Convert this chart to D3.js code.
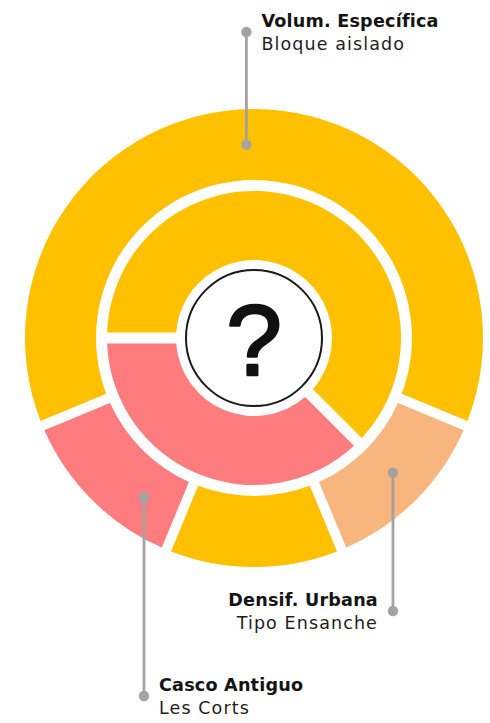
<!DOCTYPE html>
<html>
<head>
<meta charset="utf-8">
<script src="https://cdn.jsdelivr.net/npm/d3@7"></script>
<style>
  html, body { margin: 0; padding: 0; background: #ffffff; }
  svg { display: block; }
</style>
</head>
<body>
<script>
// Outer ring: one value per segment, clockwise from the upper-left edge
const outerGroups = ["volum", "densif", "volum", "casco"];
const outerValues = [5, 1, 1, 1];

// Inner ring
const innerGroups = ["volum", "casco"];
const innerValues = [5, 3];

// Callout texts and the outer segment each one points at
const labelTitles = ["Volum. Específica", "Densif. Urbana", "Casco Antiguo"];
const labelSubtitles = ["Bloque aislado", "Tipo Ensanche", "Les Corts"];
const labelSegments = [0, 1, 3];

const centerMark = "?";

const W = 490, H = 723;
const cx = 254, cy = 338;
const rCircle = 68;
const rInner = [78, 147];
const rOuter = [158, 229];

const color = d3.scaleOrdinal()
  .domain(["volum", "densif", "casco"])
  .range(["#FFC000", "#F9B57E", "#FF7C7E"]);

const svg = d3.select("body").append("svg")
  .attr("width", W).attr("height", H);

const g = svg.append("g").attr("transform", `translate(${cx},${cy})`);

const deg = Math.PI / 180;

const outerPie = d3.pie().sort(null).value(d => d)
  .startAngle(-112.5 * deg).endAngle(247.5 * deg);
const innerPie = d3.pie().sort(null).value(d => d)
  .startAngle(-90 * deg).endAngle(270 * deg);

const outerArc = d3.arc().innerRadius(rOuter[0]).outerRadius(rOuter[1])
  .padAngle(0.1).padRadius(100);
const innerArc = d3.arc().innerRadius(rInner[0]).outerRadius(rInner[1])
  .padAngle(0.11).padRadius(100);

const outerData = outerPie(outerValues);
const innerData = innerPie(innerValues);

g.selectAll("path.outer").data(outerData).join("path")
  .attr("class", "outer")
  .attr("d", outerArc)
  .attr("fill", (d, i) => color(outerGroups[i]));

g.selectAll("path.inner").data(innerData).join("path")
  .attr("class", "inner")
  .attr("d", innerArc)
  .attr("fill", (d, i) => color(innerGroups[i]));

// Centre badge
g.append("circle")
  .attr("r", rCircle)
  .attr("fill", "#ffffff")
  .attr("stroke", "#1a1a1a")
  .attr("stroke-width", 2);

g.append("text")
  .attr("text-anchor", "middle")
  .attr("y", 100 * 0.37)
  .attr("font-family", "'Liberation Sans', Arial, sans-serif")
  .attr("font-size", 100)
  .attr("fill", "#111111")
  .attr("stroke", "#111111")
  .attr("stroke-width", 2.6)
  .attr("stroke-linejoin", "round")
  .text(centerMark);

// Callouts: where along the segment the leader starts, where its far dot sits,
// and on which side of the leader the text goes
const calloutLayout = [
  { along: 0.49, endY: 32,  side: "right" },
  { along: 0.48, endY: 611, side: "left" },
  { along: 0.27, endY: 696, side: "right" }
];

const rMid = (rOuter[0] + rOuter[1]) / 2;
const leaderColor = "#A3A3A3";

labelTitles.forEach((title, i) => {
  const seg = outerData[labelSegments[i]];
  const lay = calloutLayout[i];
  const a = seg.startAngle + (seg.endAngle - seg.startAngle) * lay.along;
  const x = cx + rMid * Math.sin(a);
  const y0 = cy - rMid * Math.cos(a);
  const y1 = lay.endY;

  svg.append("line")
    .attr("x1", x).attr("x2", x)
    .attr("y1", y0).attr("y2", y1)
    .attr("stroke", leaderColor)
    .attr("stroke-width", 2.8);
  svg.append("circle").attr("cx", x).attr("cy", y0).attr("r", 5.2).attr("fill", leaderColor);
  svg.append("circle").attr("cx", x).attr("cy", y1).attr("r", 5.2).attr("fill", leaderColor);

  const tx = lay.side === "right" ? x + 15 : x - 15;
  const anchor = lay.side === "right" ? "start" : "end";

  svg.append("text")
    .attr("x", tx).attr("y", y1 - 5.5)
    .attr("text-anchor", anchor)
    .attr("font-family", "'DejaVu Sans', sans-serif")
    .attr("font-weight", "bold")
    .attr("font-size", 17.6)
    .attr("letter-spacing", 0.2)
    .attr("fill", "#141414")
    .text(title);

  svg.append("text")
    .attr("x", tx).attr("y", y1 + 18)
    .attr("text-anchor", anchor)
    .attr("font-family", "'DejaVu Sans', sans-serif")
    .attr("font-size", 17.5)
    .attr("letter-spacing", 1.1)
    .attr("fill", "#1e1e1e")
    .text(labelSubtitles[i]);
});
</script>
</body>
</html>
